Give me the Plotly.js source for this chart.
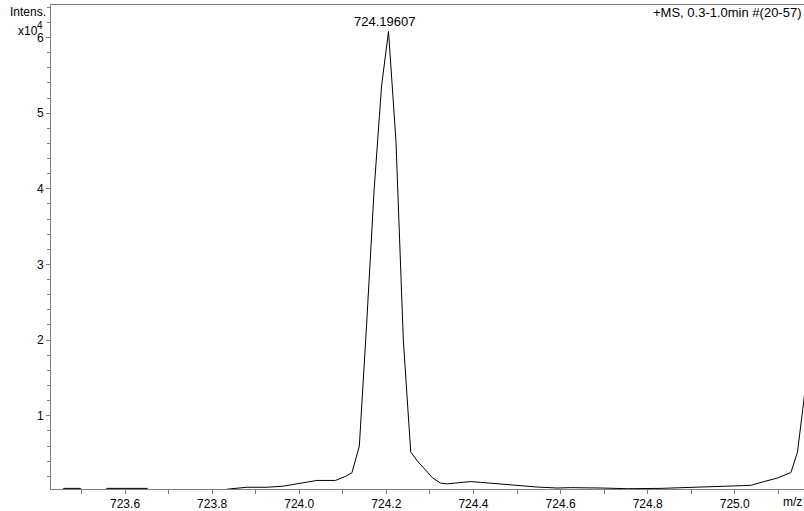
<!DOCTYPE html>
<html>
<head>
<meta charset="utf-8">
<script src="https://cdn.plot.ly/plotly-3.0.1.min.js"></script>
<style>
  html, body { margin: 0; padding: 0; background: #fff; }
  #chart { width: 804px; height: 511px; }
</style>
</head>
<body>
<div id="chart"></div>
<script>
// m/z values of the profile spectrum
const mz = [
  723.430, 723.456, 723.459, 723.498, 723.502, 723.555, 723.558, 723.651, 723.655, 723.820,
  723.835, 723.880, 723.926, 723.964, 724.002, 724.041, 724.083, 724.106, 724.121, 724.138,
  724.155, 724.172, 724.189, 724.205, 724.222, 724.239, 724.256, 724.273, 724.289, 724.306,
  724.324, 724.340, 724.366, 724.393, 724.416, 724.446, 724.477, 724.516, 724.546, 724.592,
  724.623, 724.692, 724.753, 724.830, 724.906, 724.945, 724.998, 725.037, 725.067, 725.098,
  725.129, 725.144, 725.156, 725.163
];
// intensities in units of 10^4
const intensity = [
  0, 0, 0.04, 0.04, 0, 0, 0.04, 0.04, 0, 0,
  0.03, 0.055, 0.055, 0.07, 0.108, 0.145, 0.145, 0.198, 0.247, 0.60,
  2.24, 3.99, 5.36, 6.08, 4.64, 2.00, 0.52, 0.39, 0.29, 0.18,
  0.11, 0.10, 0.115, 0.13, 0.12, 0.105, 0.088, 0.075, 0.058, 0.045,
  0.05, 0.045, 0.036, 0.04, 0.053, 0.066, 0.07, 0.08, 0.13, 0.177,
  0.25, 0.52, 1.08, 1.41
];
const peakLabel = "724.19607";
const peakMz = 724.19607;
const peakIntensity = 6.08;
const scanLabel = "+MS, 0.3-1.0min #(20-57)";
const yAxisLabel = "Intens.";
const yScaleBase = "x10";
const yScaleExp = "4";
const xAxisLabel = "m/z";

const axisColor = "#808080";
const fontFam = "Liberation Sans, Arial, sans-serif";

const trace = {
  x: mz, y: intensity, type: "scatter", mode: "lines",
  line: { color: "#000", width: 1 }, hoverinfo: "skip"
};

const layout = {
  width: 804, height: 511,
  margin: { l: 51, r: 0, t: 5, b: 22, pad: 0 },
  paper_bgcolor: "#fff", plot_bgcolor: "#fff",
  showlegend: false,
  font: { family: fontFam, size: 12, color: "#000" },
  xaxis: {
    range: [723.430, 725.159],
    showgrid: false, zeroline: false,
    showline: true, linecolor: axisColor, linewidth: 1, mirror: true,
    ticks: "outside", ticklen: 4, tickcolor: axisColor, tickwidth: 1,
    tick0: 723.6, dtick: 0.2, tickformat: ".1f",
    minor: { dtick: 0.1, ticks: "outside", ticklen: 4, tickcolor: axisColor, showgrid: false },
    tickfont: { family: fontFam, size: 12, color: "#000" }
  },
  yaxis: {
    range: [0.032, 6.43],
    showgrid: false, zeroline: false,
    showline: true, linecolor: axisColor, linewidth: 1,
    ticks: "outside", ticklen: 4, tickcolor: axisColor, tickwidth: 1,
    tickvals: [1, 2, 3, 4, 5, 6],
    minor: { dtick: 0.2, tick0: 0, ticks: "outside", ticklen: 3, tickcolor: axisColor, showgrid: false },
    tickfont: { family: fontFam, size: 12, color: "#000" }
  },
  annotations: [
    { text: peakLabel, x: peakMz, y: peakIntensity, xref: "x", yref: "y",
      xanchor: "center", yanchor: "bottom", yshift: 0, showarrow: false,
      font: { family: fontFam, size: 13, color: "#000" } },
    { text: scanLabel, x: 1, y: 0.985, xref: "paper", yref: "paper",
      xanchor: "right", yanchor: "middle", xshift: -1, showarrow: false,
      font: { family: fontFam, size: 13, color: "#000" } },
    { text: yAxisLabel, x: 0, y: 0.986, xref: "paper", yref: "paper",
      xanchor: "right", yanchor: "middle", xshift: -3, showarrow: false,
      font: { family: fontFam, size: 12, color: "#000" } },
    { text: yScaleBase, x: 0, y: 0.947, xref: "paper", yref: "paper",
      xanchor: "right", yanchor: "middle", xshift: -11, showarrow: false,
      font: { family: fontFam, size: 12, color: "#000" } },
    { text: yScaleExp, x: 0, y: 0.958, xref: "paper", yref: "paper",
      xanchor: "right", yanchor: "middle", xshift: -6, showarrow: false,
      font: { family: fontFam, size: 10, color: "#000" } },
    { text: xAxisLabel, x: 1, y: -0.026, xref: "paper", yref: "paper",
      xanchor: "right", yanchor: "middle", showarrow: false,
      font: { family: fontFam, size: 12, color: "#000" } }
  ]
};

Plotly.newPlot("chart", [trace], layout, { displayModeBar: false, staticPlot: true });
</script>
</body>
</html>
